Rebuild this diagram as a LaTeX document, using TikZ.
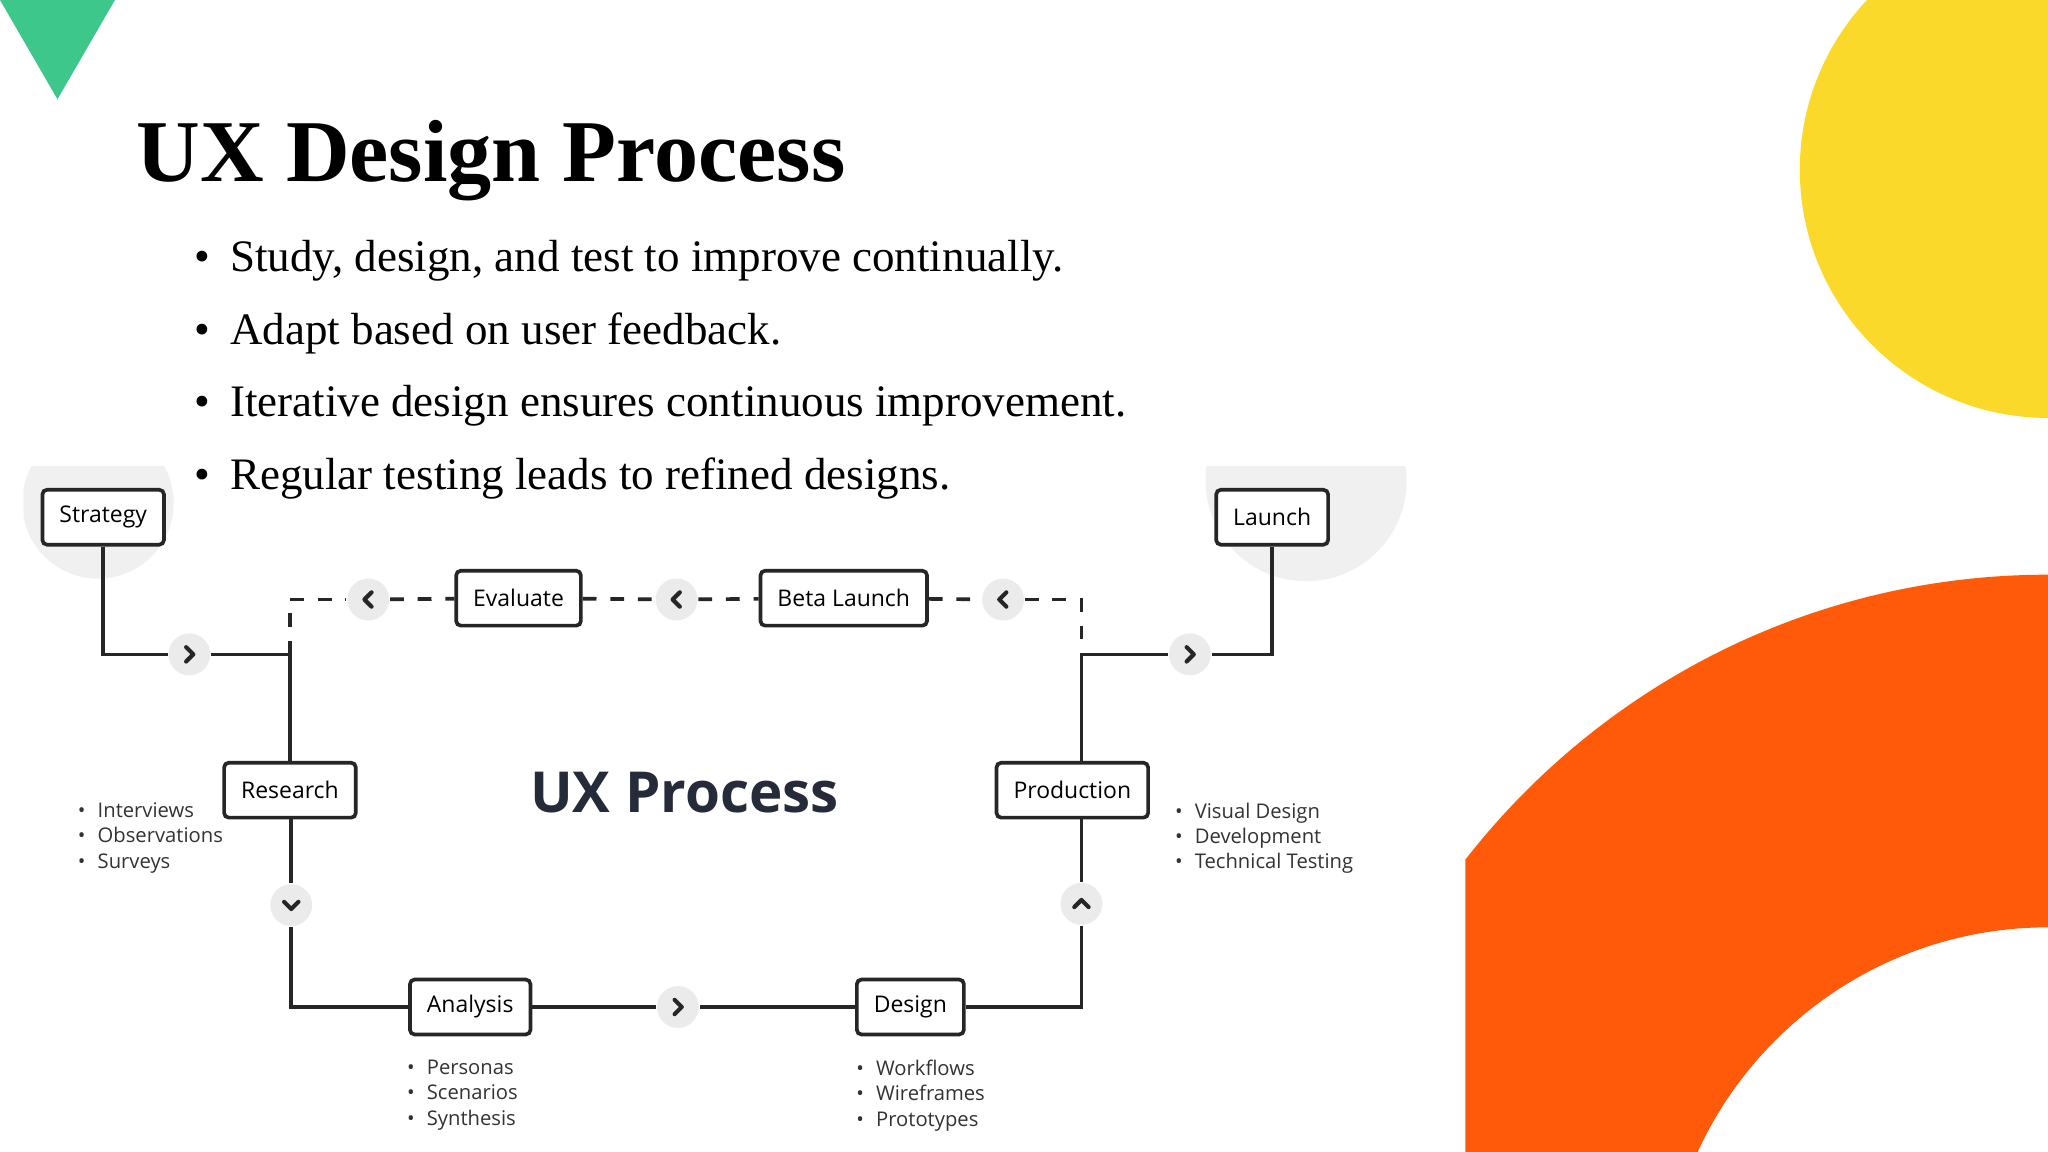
\documentclass[tikz,border=0pt]{standalone}
\usepackage{fontspec}
\setmainfont{Liberation Serif}
\newfontfamily\uxsans{Open Sans}
\definecolor{uxgreen}{HTML}{3EC78A}
\definecolor{uxyellow}{HTML}{FBD92A}
\definecolor{uxorange}{HTML}{FF5A0A}
\definecolor{uxnavy}{HTML}{262B3A}
\begin{document}
\begin{tikzpicture}[x=0.01cm,y=-0.01cm]
        \tikzset{stage/.style = {draw=black!85,line width=0.8pt,rounded corners=1pt,fill=white,minimum height=0.42cm,inner xsep=0.13cm,font=\uxsans\fontsize{5}{6}\selectfont}}
        \tikzset{knob/.style = {circle,fill=black!8,minimum size=0.32cm,inner sep=0pt}}
        \tikzset{link/.style = {line width=0.8pt,draw=black!85}}
        \tikzset{dlink/.style = {link,dash pattern=on 3pt off 3pt}}
        \tikzset{chevron/.style = {line width=0.9pt,draw=black!85,line cap=round,line join=round}}
        \tikzset{notes/.style = {align=left,anchor=north west,inner sep=0pt,font=\uxsans\fontsize{4.4}{5.5}\selectfont,text=black!80}}
        \useasboundingbox (0,0) rectangle (1568,882);
        \fill[white] (0,0) rectangle (1568,882);
        % decoration
        \fill[uxgreen] (0,0) -- (88,0) -- (44,76) -- cycle;
        \fill[uxyellow] (1568,130) circle[radius=190];
        \begin{scope}
          \clip (1122,0) rectangle (1568,882);
          \fill[uxorange,even odd rule] (1568,1005) circle[radius=565] (1568,1005) circle[radius=295];
        \end{scope}
        \begin{scope}
          \clip (18,357) rectangle (1077,882);
          \fill[black!6] (75,385) circle[radius=58];
          \fill[black!6] (1000,368) circle[radius=77];
        \end{scope}
        % title and bullets
        \node[anchor=west,inner sep=0pt,font=\bfseries\fontsize{19.2}{22}\selectfont] (title) at (104,123) {UX Design Process};
        \foreach \t [count=\i] in {{Study, design, and test to improve continually.},{Adapt based on user feedback.},{Iterative design ensures continuous improvement.},{Regular testing leads to refined designs.}}
          \node[anchor=west,inner sep=0pt,font=\fontsize{9.8}{12}\selectfont] (b\i) at (148,144.5+55.5*\i) {\textbullet\hspace{0.45em}\t};
        % stages
        \node[stage] (strategy) at (79,396) {Strategy};
        \node[stage] (launch) at (974,396) {Launch};
        \node[stage] (evaluate) at (397,458) {Evaluate};
        \node[stage] (beta) at (646,458) {Beta Launch};
        \node[stage] (research) at (222,605) {Research};
        \node[stage] (production) at (821,605) {Production};
        \node[stage] (analysis) at (360,771) {Analysis};
        \node[stage] (design) at (697,771) {Design};
        % knobs
        \node[knob] (k1) at (145,501) {};
        \node[knob] (k2) at (282,459) {};
        \node[knob] (k3) at (518,459) {};
        \node[knob] (k4) at (768,459) {};
        \node[knob] (k5) at (911,501) {};
        \node[knob] (k6) at (223,693) {};
        \node[knob] (k7) at (828,692) {};
        \node[knob] (k8) at (519,771) {};
        \foreach \k/\a in {k1/0,k2/180,k3/180,k4/180,k5/0,k6/-90,k7/90,k8/0}
          \draw[chevron,shift={(\k)},rotate=\a] (-2.5,-5.5) -- (3,0) -- (-2.5,5.5);
        \coordinate (jl) at (222,501);
        \coordinate (jr) at (828,501);
        % links
        \draw[link] (strategy.south) |- (k1);
        \draw[link] (k1) -- (jl) -- (research.north);
        \draw[dlink] (jl) |- (k2);
        \draw[dlink] (k2) -- (evaluate);
        \draw[dlink] (evaluate) -- (k3);
        \draw[dlink] (k3) -- (beta);
        \draw[dlink] (beta) -- (k4);
        \draw[dlink] (k4) -| (jr);
        \draw[link] (production.north -| jr) -- (jr) -- (k5);
        \draw[link] (k5) -| (launch.south);
        \draw[link] (production.south -| k7) -- (k7);
        \draw[link] (k7) |- (design.east);
        \draw[link] (design) -- (k8);
        \draw[link] (k8) -- (analysis);
        \draw[link] (analysis.west) -| (k6);
        \draw[link] (k6) -- (research.south -| k6);
        % notes
        \node[notes] (n1) at (59,614) {\textbullet\hspace{0.6em}Interviews\\\textbullet\hspace{0.6em}Observations\\\textbullet\hspace{0.6em}Surveys};
        \node[notes] (n2) at (899,614) {\textbullet\hspace{0.6em}Visual Design\\\textbullet\hspace{0.6em}Development\\\textbullet\hspace{0.6em}Technical Testing};
        \node[notes] (n3) at (311,811) {\textbullet\hspace{0.6em}Personas\\\textbullet\hspace{0.6em}Scenarios\\\textbullet\hspace{0.6em}Synthesis};
        \node[notes] (n4) at (655,811) {\textbullet\hspace{0.6em}Workflows\\\textbullet\hspace{0.6em}Wireframes\\\textbullet\hspace{0.6em}Prototypes};
        \node[font=\uxsans\bfseries\fontsize{12.3}{14}\selectfont,text=uxnavy] (ux) at (524,607) {UX Process};
\end{tikzpicture}
\end{document}
